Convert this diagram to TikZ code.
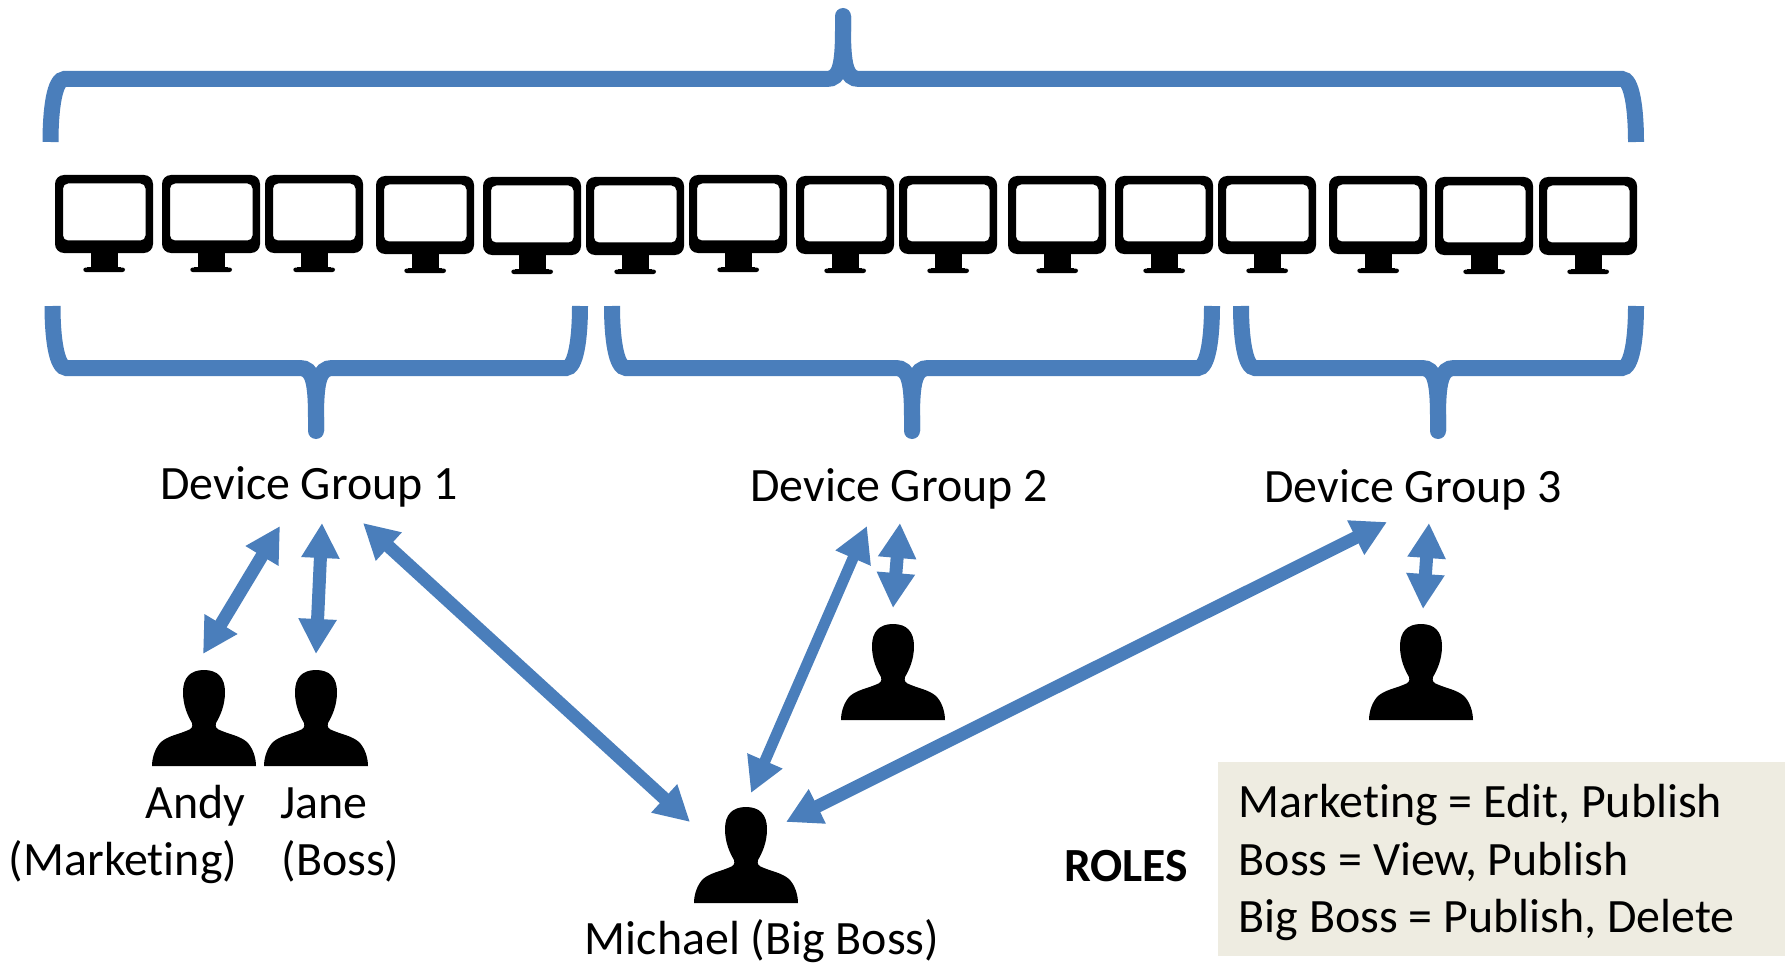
\documentclass[tikz,border=0pt]{standalone}
\usepackage{fontspec}
\setmainfont[RawFeature={-liga}]{Carlito}
\usetikzlibrary{arrows.meta}
\definecolor{bluelink}{HTML}{4A7EBB}
\definecolor{boxfill}{HTML}{EEECE1}
\tikzset{
  monitor/.pic={
    \fill[even odd rule,rounded corners=4.5pt] (0,0) rectangle (98,78)
      [rounded corners=2.5pt] (8,8.5) rectangle (90.5,65.5);
    \fill (35.7,77) rectangle (63.3,93);
    \fill (32,91.7) rectangle (66,95);
    \fill[rounded corners=1.2pt] (28.3,92.5) rectangle (70,97);
  },
  person/.pic={
    \fill (0,0) .. controls (14,0) and (21,8) .. (21,22)
      .. controls (21,36) and (16,46) .. (12,53)
      .. controls (11,57) and (12,59) .. (18,61)
      .. controls (25,64) and (36,66) .. (43,72)
      .. controls (49,78) and (52,88) .. (52,96)
      -- (-52,96)
      .. controls (-52,88) and (-49,78) .. (-43,72)
      .. controls (-36,66) and (-25,64) .. (-18,61)
      .. controls (-12,59) and (-11,57) .. (-12,53)
      .. controls (-16,46) and (-21,36) .. (-21,22)
      .. controls (-21,8) and (-14,0) .. (0,0) -- cycle;
  },
  bracestroke/.style={draw=bluelink,line width=8pt,line cap=butt},
  link/.style={draw=bluelink,line width=6.5pt,{Triangle[length=17.5pt,width=18pt]}-{Triangle[length=17.5pt,width=18pt]}},
  linkthin/.style={link,line width=5.5pt},
  lbl/.style={font=\fontsize{23.95}{28}\selectfont,anchor=base,inner sep=0pt,text=black},
  lblw/.style={lbl,anchor=base west},
}
% #1 left x, #2 middle x, #3 right x, #4 free-end y, #5 bar y, #6 tip y
\newcommand{\curlybrace}[6]{%
  \pgfmathsetmacro{\cdir}{(#4>#5)?1:-1}%
  \draw[bracestroke] (#1,#4) .. controls (#1,{#5+\cdir*30}) and ({#1+4},#5) .. ({#1+14},#5)
    -- ({#2-16},#5) .. controls ({#2-3},#5) and (#2,{#5-\cdir*14}) .. (#2,{#5-\cdir*50}) -- (#2,#6);
  \draw[bracestroke] (#3,#4) .. controls (#3,{#5+\cdir*30}) and ({#3-4},#5) .. ({#3-14},#5)
    -- ({#2+16},#5) .. controls ({#2+3},#5) and (#2,{#5-\cdir*14}) .. (#2,{#5-\cdir*50}) -- (#2,#6);
  \fill[bluelink] (#2,#6) circle (4pt);%
}
\begin{document}
\begin{tikzpicture}[x=0.5pt,y=-0.5pt]
\useasboundingbox (0,0) rectangle (1785,963);
% monitors
\foreach \mx/\my [count=\i] in {55/175,162/175,265/175,376/176,483/177,586/177,689/175,796/176,899/176,1008/176,1115/176,1218/176,1329/176,1435/177,1539/177}
  \pic (m\i) at (\mx,\my) {monitor};
% braces
\curlybrace{50.5}{843}{1636}{142}{79}{16}
\curlybrace{52.5}{316}{580}{306}{368}{431}
\curlybrace{612}{912}{1212}{306}{368}{431}
\curlybrace{1241}{1438}{1636}{306}{368}{431}
% people
\pic (andy) at (204,670) {person};
\pic (jane) at (316,670) {person};
\pic (michael) at (746,807) {person};
\pic (user2) at (893,624) {person};
\pic (user3) at (1421,624) {person};
% labels
\node[lbl] (dg1) at (309,499) {Device Group 1};
\node[lbl] (dg2) at (899,501) {Device Group 2};
\node[lbl] (dg3) at (1413,502) {Device Group 3};
\node[lbl] (andyname) at (195.5,818) {Andy};
\node[lbl] (andyrole) at (123,875) {(Marketing)};
\node[lbl] (janename) at (324,818) {Jane};
\node[lbl] (janerole) at (340.5,875) {(Boss)};
\node[lbl] (mname) at (762,954) {Michael (Big Boss)};
\node[lbl,font=\fontsize{23.8}{28}\selectfont\bfseries] (roles) at (1126,881) {ROLES};
\node[fill=boxfill,minimum width=283.5pt,minimum height=97pt,inner sep=0pt,anchor=north west] (rolebox) at (1218,762) {};
\node[lblw] (r1) at (1238.5,817) {Marketing = Edit, Publish};
\node[lblw] (r2) at (1238.5,875) {Boss = View, Publish};
\node[lblw] (r3) at (1238.5,932) {Big Boss = Publish, Delete};
% connector ends
\coordinate (a1a) at (280,526); \coordinate (a1b) at (203,654);
\coordinate (a2a) at (322,523); \coordinate (a2b) at (316,654);
\coordinate (a3a) at (363,523); \coordinate (a3b) at (690,822);
\coordinate (a4a) at (867,526); \coordinate (a4b) at (751,793);
\coordinate (a5a) at (900,523); \coordinate (a5b) at (893,608);
\coordinate (a6a) at (1387,522); \coordinate (a6b) at (786,822);
\coordinate (a7a) at (1429,523); \coordinate (a7b) at (1423,609);
\draw[link] (a1a) -- (a1b);
\draw[link] (a2a) -- (a2b);
\draw[link] (a3a) -- (a3b);
\draw[linkthin] (a4a) -- (a4b);
\draw[link] (a5a) -- (a5b);
\draw[link] (a6a) -- (a6b);
\draw[link] (a7a) -- (a7b);
\end{tikzpicture}
\end{document}
